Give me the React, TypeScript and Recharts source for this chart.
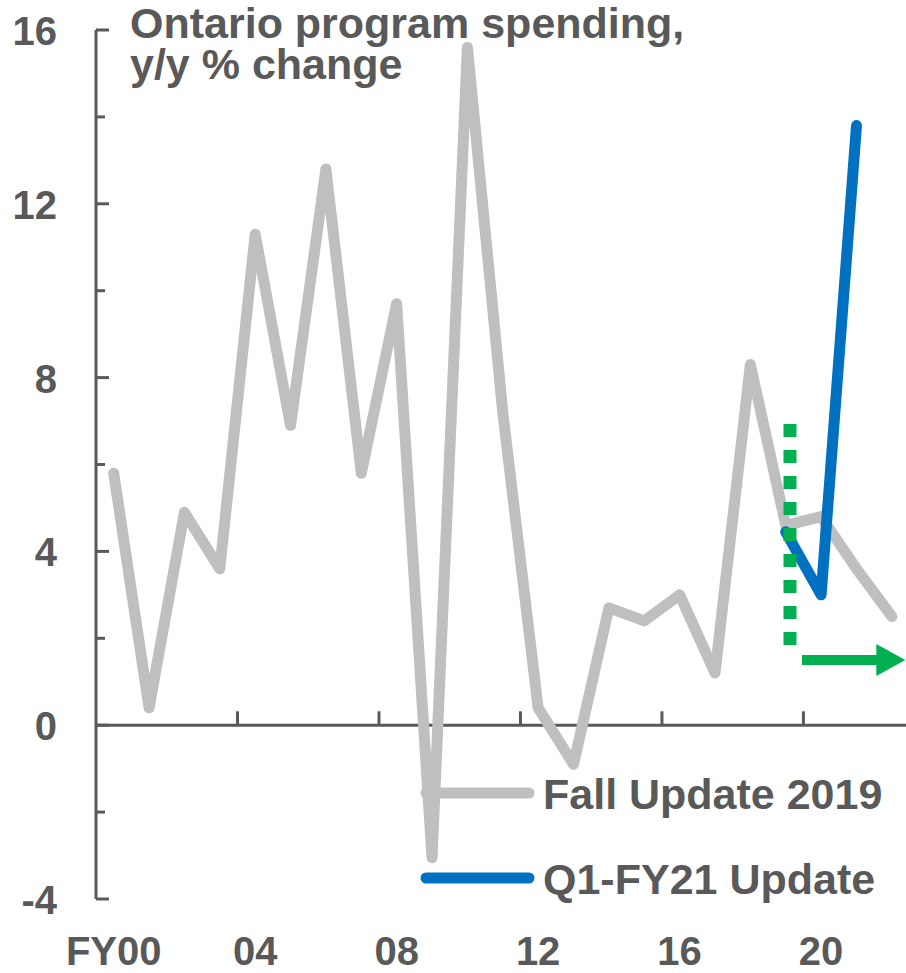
import { LineChart, Line, XAxis, YAxis, ReferenceLine, Legend } from "recharts";

const years = [
  "FY00", "FY01", "FY02", "FY03", "FY04", "FY05", "FY06", "FY07", "FY08", "FY09", "FY10", "FY11",
  "FY12", "FY13", "FY14", "FY15", "FY16", "FY17", "FY18", "FY19", "FY20", "FY21", "FY22",
];

// y/y % change
const fallUpdate2019 = [
  5.8, 0.4, 4.9, 3.6, 11.3, 6.9, 12.8, 5.8, 9.7, -3.05, 15.6, 7.2,
  0.4, -0.9, 2.7, 2.4, 3.0, 1.2, 8.3, 4.6, 4.8, 3.6, 2.5,
];
const q1Fy21Update: (number | null)[] = [
  null, null, null, null, null, null, null, null, null, null, null, null,
  null, null, null, null, null, null, null, 4.45, 3.0, 13.8, null,
];

const xLabelTicks = [0, 4, 8, 12, 16, 20];
const xTickLabels = ["FY00", "04", "08", "12", "16", "20"];
const yTicks = [-4, -2, 0, 2, 4, 6, 8, 10, 12, 14, 16];

// green annotations (category index, % value)
const cutoffLine = [{ x: 19.12, y: 6.93 }, { x: 19.12, y: 1.84 }];
const forecastArrow = [{ x: 19.46, y: 1.5 }, { x: 22.38, y: 1.5 }];

const AXIS = "#595959";
const GREEN = "#00B050";
const FONT = "'Liberation Sans', Arial, sans-serif";

const rows = years.map((fy, i) => ({
  idx: i,
  fy,
  fall: fallUpdate2019[i],
  q1: q1Fy21Update[i],
}));

const xTickMarks = xLabelTicks.slice(1).map((t) => t - 0.5);

function XTick({ x, y, payload }: any) {
  const label = xTickLabels[xLabelTicks.indexOf(payload.value)];
  return (
    <text x={x} y={y + 66} textAnchor="middle" fontSize={40} fontWeight="bold" fill={AXIS} fontFamily={FONT}>
      {label}
    </text>
  );
}

function YTick({ x, y, payload }: any) {
  const v = payload.value;
  const major = v % 4 === 0;
  return (
    <g>
      <line x1={x} x2={x + (major ? 13 : 9)} y1={y} y2={y} stroke={AXIS} strokeWidth={3} />
      {major && (
        <text x={x - 39} y={y + 15} textAnchor="end" fontSize={40} fontWeight="bold" fill={AXIS} fontFamily={FONT}>
          {v}
        </text>
      )}
    </g>
  );
}

function ArrowShape(props: any) {
  const { x1, y1, x2 } = props;
  const headLen = 29;
  const half = 16;
  return (
    <g>
      <line x1={x1} y1={y1} x2={x2 - headLen + 1} y2={y1} stroke={GREEN} strokeWidth={10} />
      <polygon points={`${x2 - headLen},${y1 - half} ${x2},${y1} ${x2 - headLen},${y1 + half}`} fill={GREEN} />
    </g>
  );
}

function LegendContent({ payload }: any) {
  const items = payload || [];
  return (
    <svg width={490} height={160} style={{ display: "block" }}>
      {items.map((p: any, i: number) => {
        const cy = 33 + i * 85;
        return (
          <g key={p.value}>
            <line x1={12} x2={115} y1={cy} y2={cy} stroke={p.color} strokeWidth={11} strokeLinecap="round" />
            <text x={129} y={cy + 16} fontSize={43} fontWeight="bold" fill={AXIS} fontFamily={FONT}>
              {p.value}
            </text>
          </g>
        );
      })}
    </svg>
  );
}

export default function App() {
  return (
    <div style={{ position: "absolute", left: 0, top: 0, width: 906, height: 973, background: "#fff", overflow: "hidden" }}>
      <LineChart width={906} height={973} data={rows} margin={{ top: 30, right: 0, bottom: 0, left: 0 }}>
        <XAxis
          dataKey="idx"
          type="number"
          domain={[-0.5, 22.4]}
          allowDataOverflow
          ticks={xLabelTicks}
          interval={0}
          height={74}
          axisLine={false}
          tickLine={false}
          tickSize={0}
          tickMargin={0}
          tick={<XTick />}
        />
        <YAxis
          type="number"
          domain={[-4, 16]}
          allowDataOverflow
          ticks={yTicks}
          interval={0}
          width={96}
          axisLine={{ stroke: AXIS, strokeWidth: 3 }}
          tickLine={false}
          tickSize={0}
          tickMargin={0}
          tick={<YTick />}
        />
        <ReferenceLine y={0} stroke={AXIS} strokeWidth={3} />
        {xTickMarks.map((t) => (
          <ReferenceLine key={t} segment={[{ x: t, y: 0 }, { x: t, y: 0.32 }]} stroke={AXIS} strokeWidth={3} ifOverflow="visible" />
        ))}
        <Line
          type="linear"
          dataKey="fall"
          name="Fall Update 2019"
          stroke="#BFBFBF"
          strokeWidth={11}
          strokeLinejoin="round"
          strokeLinecap="round"
          dot={false}
          activeDot={false}
          isAnimationActive={false}
        />
        <Line
          type="linear"
          dataKey="q1"
          name="Q1-FY21 Update"
          stroke="#0070C0"
          strokeWidth={11}
          strokeLinejoin="round"
          strokeLinecap="round"
          dot={false}
          activeDot={false}
          isAnimationActive={false}
        />
        <ReferenceLine segment={cutoffLine} stroke={GREEN} strokeWidth={13} strokeDasharray="13 13" ifOverflow="visible" />
        <ReferenceLine segment={forecastArrow} stroke={GREEN} ifOverflow="visible" shape={ArrowShape} />
        <Legend
          layout="horizontal"
          verticalAlign="middle"
          align="center"
          wrapperStyle={{ left: 414, top: 760, width: 490, height: 160 }}
          content={LegendContent}
        />
      </LineChart>
      <div
        style={{
          position: "absolute",
          left: 130,
          top: 3,
          fontFamily: FONT,
          fontSize: 43,
          lineHeight: "41px",
          fontWeight: "bold",
          color: AXIS,
          whiteSpace: "pre",
        }}
      >
        {"Ontario program spending,\ny/y % change"}
      </div>
    </div>
  );
}
